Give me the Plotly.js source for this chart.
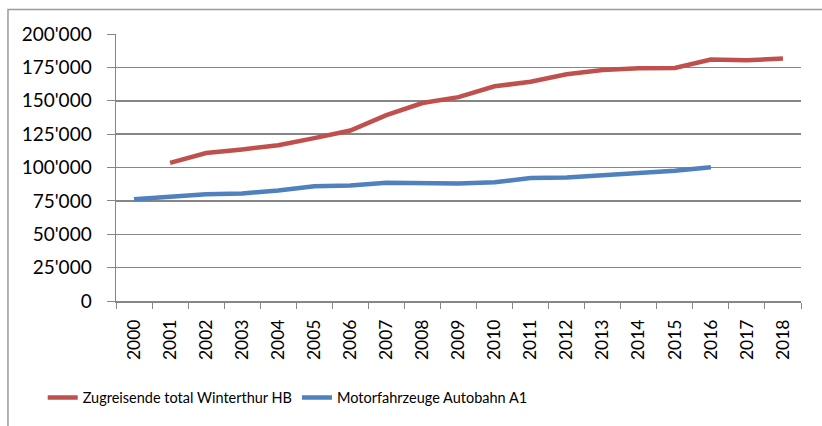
<!DOCTYPE html>
<html>
<head>
<meta charset="utf-8">
<script src="https://cdn.plot.ly/plotly-3.0.1.min.js"></script>
<style>html,body{margin:0;padding:0;background:#fff}#chart{width:822px;height:426px}</style>
</head>
<body>
<div id="chart"></div>
<script>
const years = ['2000','2001','2002','2003','2004','2005','2006','2007','2008','2009','2010','2011','2012','2013','2014','2015','2016','2017','2018'];
const zugreisende = [null,103500,110800,113500,116700,122000,127700,139200,148300,152700,160800,164200,169900,173000,174300,174500,180900,180400,181600];
const motorfahrzeuge = [76200,78200,79900,80600,82800,86000,86500,88500,88000,88000,89000,92100,92600,94300,95600,97500,100200,null,null];
const seriesNames = ['Zugreisende total Winterthur HB','Motorfahrzeuge Autobahn A1'];
const yTicks = [0,25000,50000,75000,100000,125000,150000,175000,200000];

const gridColor = '#868686';
const traces = [
  {x: years, y: zugreisende, name: seriesNames[0], type: 'scatter', mode: 'lines',
   line: {color: '#C0504D', width: 4.5}, connectgaps: false},
  {x: years, y: motorfahrzeuge, name: seriesNames[1], type: 'scatter', mode: 'lines',
   line: {color: '#4F81BD', width: 4.5}, connectgaps: false}
];
const layout = {
  width: 822, height: 426,
  margin: {l: 116, r: 21, t: 34, b: 120},
  paper_bgcolor: '#fff', plot_bgcolor: '#fff',
  separators: ".'",
  font: {family: 'Lato, "Open Sans", sans-serif', color: '#000', size: 18},
  showlegend: true,
  legend: {orientation: 'h', x: -0.107, xanchor: 'left', y: -0.362, yanchor: 'middle',
    font: {family: 'Lato, sans-serif', size: 14.5, color: '#000'},
    itemwidth: 30, tracegroupgap: 0},
  xaxis: {type: 'category', range: [-0.5, 18.5], tickson: 'boundaries', ticks: 'outside', ticklen: 6,
    tickcolor: gridColor, showline: true, linecolor: gridColor, linewidth: 1.5, showgrid: false,
    tickangle: -90, tickfont: {size: 17.5}, ticklabelstandoff: 10, fixedrange: true},
  yaxis: {range: [0, 200000], tickvals: yTicks, tickformat: ',d', ticks: 'outside', ticklen: 8,
    tickcolor: gridColor, showline: true, linecolor: gridColor, linewidth: 1.5,
    showgrid: true, gridcolor: gridColor, gridwidth: 1.5, zeroline: false,
    tickfont: {size: 19},
    ticklabelstandoff: 11, fixedrange: true},
  shapes: [{type: 'rect', xref: 'paper', yref: 'paper', x0: -0.1577, x1: 1.2, y0: -0.6, y1: 1.0919,
    line: {color: '#9a9a9a', width: 1.5}, fillcolor: 'rgba(0,0,0,0)', layer: 'below'}]
};
Plotly.newPlot('chart', traces, layout, {displayModeBar: false, staticPlot: true});
</script>
</body>
</html>
